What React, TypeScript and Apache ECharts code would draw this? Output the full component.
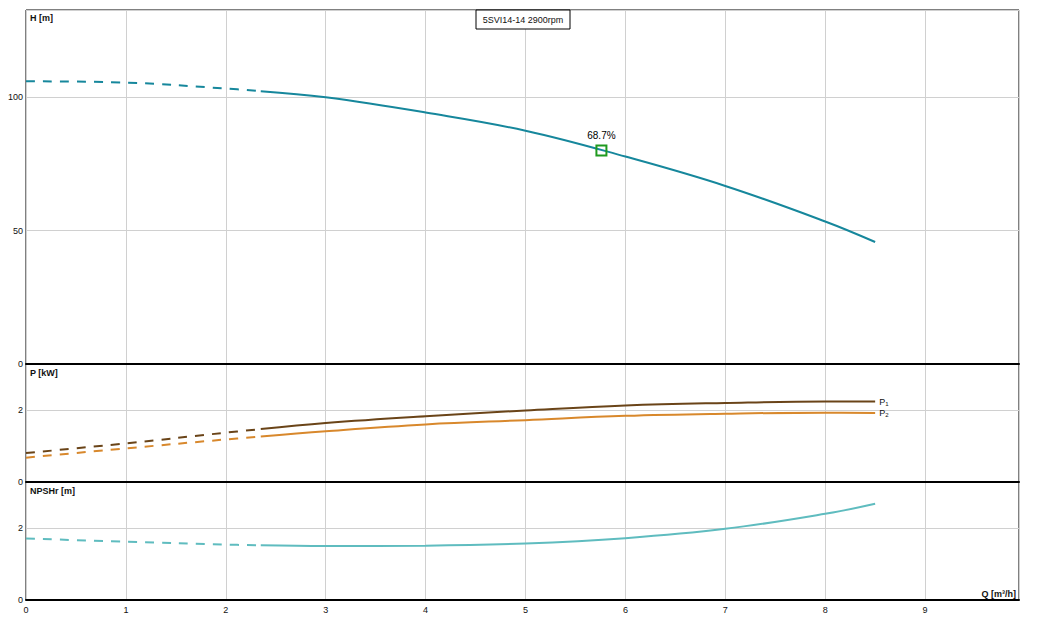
import React, { useEffect, useRef } from "react";
import * as echarts from "echarts";

// Flow Q [m³/h]
const qDashed = [0, 1, 2, 2.35];
const qSolid = [2.35, 3, 4, 5, 6, 7, 8, 8.5];

// Head H [m]
const hDashed = [105.9, 105.4, 103.2, 102.2];
const hSolid = [102.2, 99.9, 94.2, 87.4, 77.7, 66.7, 53.4, 45.7];

// Power P1 / P2 [kW]
const p1Dashed = [0.81, 1.08, 1.38, 1.48];
const p1Solid = [1.48, 1.65, 1.84, 2.0, 2.14, 2.21, 2.25, 2.25];
const p2Dashed = [0.68, 0.94, 1.19, 1.27];
const p2Solid = [1.27, 1.42, 1.61, 1.73, 1.85, 1.91, 1.94, 1.93];

// NPSHr [m]
const nDashed = [1.72, 1.63, 1.55, 1.53];
const nSolid = [1.53, 1.51, 1.52, 1.58, 1.73, 1.99, 2.41, 2.69];

// Duty point (efficiency)
const dutyQ = 5.76;
const dutyH = 80.0;
const dutyLabel = "68.7%";

const title = "5SVI14-14 2900rpm";
const xTickMax = 9.94;

const zip = (xs: number[], ys: number[]) => xs.map((x, i) => [x, ys[i]]);

const FONT = "Liberation Sans, Arial, sans-serif";

export default function App() {
  const ref = useRef<HTMLDivElement>(null);
  useEffect(() => {
    if (!ref.current) return;
    const chart = echarts.init(ref.current, undefined, { renderer: "svg" });
    const L = 26, W = 993;
    const grids = [
      { left: L, top: 10, width: W, height: 354 },
      { left: L, top: 364, width: W, height: 118 },
      { left: L, top: 482, width: W, height: 118 },
    ].map((g) => ({ ...g, show: true, borderColor: "#000", borderWidth: 1, backgroundColor: "#fff" }));

    const xAxis = [0, 1, 2].map((i) => ({
      type: "value",
      gridIndex: i,
      min: 0,
      max: xTickMax,
      interval: 1,
      axisLine: { show: true, onZero: false, lineStyle: { color: "#000", width: 2 } },
      axisTick: { show: false },
      axisLabel: {
        show: i === 2,
        showMaxLabel: false,
        color: "#111",
        fontSize: 9,
        fontFamily: FONT,
        margin: 5,
      },
      splitLine: { show: true, lineStyle: { color: "#d0d0d0", width: 1 } },
    }));

    const yBase = {
      type: "value",
      min: 0,
      axisLine: { show: false },
      axisTick: { show: false },
      axisLabel: { showMaxLabel: false, color: "#111", fontSize: 9, fontFamily: FONT, margin: 3 },
      splitLine: { show: true, lineStyle: { color: "#d0d0d0", width: 1 } },
    };
    const yAxis = [
      { ...yBase, gridIndex: 0, max: 132.6, interval: 50 },
      { ...yBase, gridIndex: 1, max: 3.3, interval: 2 },
      { ...yBase, gridIndex: 2, max: 3.3, interval: 2 },
    ];

    const line = (idx: number, data: number[][], color: string, dashed: boolean, extra: any = {}) => ({
      type: "line",
      xAxisIndex: idx,
      yAxisIndex: idx,
      data,
      smooth: 0.4,
      showSymbol: false,
      symbol: "none",
      lineStyle: { color, width: 2, type: dashed ? [9, 8] : "solid" },
      z: 3,
      ...extra,
    });

    const hColor = "#16879c";
    const p1Color = "#6a4418";
    const p2Color = "#d8882c";
    const nColor = "#5fbcbf";

    const endLabel = (n: string) => ({
      endLabel: {
        show: true,
        formatter: `P{s|${n}}`,
        color: "#111",
        fontSize: 9,
        fontFamily: FONT,
        distance: 4,
        rich: { s: { fontSize: 6, fontFamily: FONT, color: "#111", verticalAlign: "bottom", padding: [4, 0, 0, 0] } },
      },
    });

    chart.setOption({
      animation: false,
      backgroundColor: "#fff",
      grid: grids,
      xAxis,
      yAxis,
      series: [
        line(0, zip(qDashed, hDashed), hColor, true),
        line(0, zip(qSolid, hSolid), hColor, false),
        line(1, zip(qDashed, p1Dashed), p1Color, true),
        line(1, zip(qSolid, p1Solid), p1Color, false, endLabel("1")),
        line(1, zip(qDashed, p2Dashed), p2Color, true),
        line(1, zip(qSolid, p2Solid), p2Color, false, endLabel("2")),
        line(2, zip(qDashed, nDashed), nColor, true),
        line(2, zip(qSolid, nSolid), nColor, false),
        {
          type: "scatter",
          xAxisIndex: 0,
          yAxisIndex: 0,
          data: [[dutyQ, dutyH]],
          symbol: "rect",
          symbolSize: 10,
          itemStyle: { color: "rgba(0,0,0,0)", borderColor: "#1f9a1f", borderWidth: 2, opacity: 1 },
          label: {
            show: true,
            position: "top",
            distance: 4,
            formatter: dutyLabel,
            color: "#000",
            fontSize: 10,
            fontFamily: FONT,
            opacity: 1,
          },
          z: 5,
        },
      ],
      graphic: [
        {
          type: "rect",
          shape: { x: 476, y: 10, width: 94, height: 19 },
          style: { fill: "#fff", stroke: "#000", lineWidth: 1 },
          z: 10,
        },
        {
          type: "text",
          x: 523,
          y: 20,
          style: { text: title, fill: "#111", font: `9px ${FONT}`, align: "center", verticalAlign: "middle" },
          z: 11,
        },
        {
          type: "text",
          x: 30,
          y: 13,
          style: { text: "H [m]", fill: "#111", font: `bold 9px ${FONT}`, verticalAlign: "top" },
          z: 11,
        },
        {
          type: "text",
          x: 30,
          y: 368,
          style: { text: "P [kW]", fill: "#111", font: `bold 9px ${FONT}`, verticalAlign: "top" },
          z: 11,
        },
        {
          type: "text",
          x: 30,
          y: 486,
          style: { text: "NPSHr [m]", fill: "#111", font: `bold 9px ${FONT}`, verticalAlign: "top" },
          z: 11,
        },
        {
          type: "text",
          x: 1016,
          y: 598,
          style: { text: "Q [m³/h]", fill: "#111", font: `bold 9px ${FONT}`, align: "right", verticalAlign: "bottom" },
          z: 11,
        },
      ],
    });
    return () => chart.dispose();
  }, []);
  return (
    <div
      ref={ref}
      style={{ position: "absolute", left: 0, top: 0, width: 1046, height: 628, background: "#fff" }}
    />
  );
}
